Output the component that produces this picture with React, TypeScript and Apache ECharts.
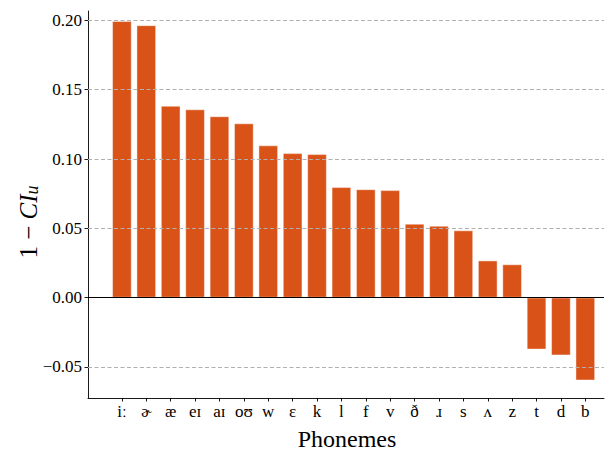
import React, { useEffect, useRef } from "react";
import * as echarts from "echarts";

const phonemes = ["iː", "ɚ", "æ", "eɪ", "aɪ", "oʊ", "w", "ɛ", "k", "l", "f", "v", "ð", "ɹ", "s", "ʌ", "z", "t", "d", "b"];
const values = [0.1995, 0.1965, 0.1384, 0.1358, 0.1308, 0.1257, 0.1098, 0.1042, 0.1035, 0.0797, 0.0782, 0.0775, 0.0533, 0.0518, 0.0485, 0.0268, 0.0240, -0.0374, -0.0416, -0.0597];
const yTicks = [-0.05, 0, 0.05, 0.1, 0.15, 0.2];
const gridValues = [-0.05, 0.05, 0.1, 0.15, 0.2];

const FONT = "Liberation Serif, serif";

export default function App() {
  const ref = useRef<HTMLDivElement>(null);
  useEffect(() => {
    if (!ref.current) return;
    const chart = echarts.init(ref.current, null, { renderer: "svg" });
    const idx = phonemes.map((_, i) => i);
    chart.setOption({
      animation: false,
      backgroundColor: "#ffffff",
      textStyle: { fontFamily: FONT },
      grid: { left: 88, top: 11, right: 5, bottom: 55, containLabel: false },
      xAxis: {
        type: "value",
        min: -1.39,
        max: 19.766,
        splitLine: { show: false },
        axisLine: { show: true, onZero: false, lineStyle: { color: "#000", width: 0.9 } },
        axisTick: { show: true, customValues: idx, length: 3.5, lineStyle: { color: "#000", width: 0.9 } },
        axisLabel: {
          customValues: idx,
          formatter: (v: number) => phonemes[Math.round(v)] ?? "",
          color: "#000",
          fontFamily: FONT,
          fontSize: 17,
          margin: 5,
        },
      },
      yAxis: {
        type: "value",
        min: -0.0724,
        max: 0.2068,
        splitLine: { show: false },
        axisLine: { show: true, onZero: false, lineStyle: { color: "#000", width: 0.9 } },
        axisTick: { show: true, customValues: yTicks, length: 3.5, lineStyle: { color: "#000", width: 0.9 } },
        axisLabel: {
          customValues: yTicks,
          formatter: (v: number) => (v < -1e-9 ? "\u2212" : "") + Math.abs(v).toFixed(2),
          color: "#000",
          fontFamily: FONT,
          fontSize: 17,
          margin: 6,
        },
      },
      series: [
        {
          type: "bar",
          data: values.map((v, i) => [i, v]),
          barWidth: 19.5,
          itemStyle: { color: "#d95319", borderColor: "rgba(255,255,255,0.55)", borderWidth: 0.8 },
          markLine: {
            silent: true,
            symbol: "none",
            label: { show: false },
            z: 5,
            data: [
              ...gridValues.map((g) => ({ yAxis: g, lineStyle: { color: "#b0b0b0", width: 1, type: [4, 2.5] } })),
              { yAxis: 0, lineStyle: { color: "#000", width: 1, type: "solid" } },
            ],
          },
        },
      ],
      graphic: [
        {
          type: "text",
          x: 347,
          y: 439,
          style: {
            text: "Phonemes",
            fontFamily: FONT,
            fontSize: 24,
            fill: "#000",
            align: "center",
            verticalAlign: "middle",
          },
        },
        {
          type: "text",
          x: 28,
          y: 222,
          rotation: Math.PI / 2,
          style: {
            text: "{n|1 \u2212 }{i|CI}{s|u}",
            fill: "#000",
            align: "center",
            verticalAlign: "middle",
            rich: {
              n: { fontFamily: FONT, fontSize: 25, lineHeight: 26, fill: "#000" },
              i: { fontFamily: FONT, fontSize: 25, fontStyle: "italic", lineHeight: 26, fill: "#000" },
              s: { fontFamily: FONT, fontSize: 18, fontStyle: "italic", lineHeight: 16, verticalAlign: "bottom", fill: "#000" },
            },
          },
        },
      ],
    });
    return () => chart.dispose();
  }, []);
  return <div ref={ref} style={{ position: "fixed", left: 0, top: 0, width: 609, height: 453 }} />;
}
